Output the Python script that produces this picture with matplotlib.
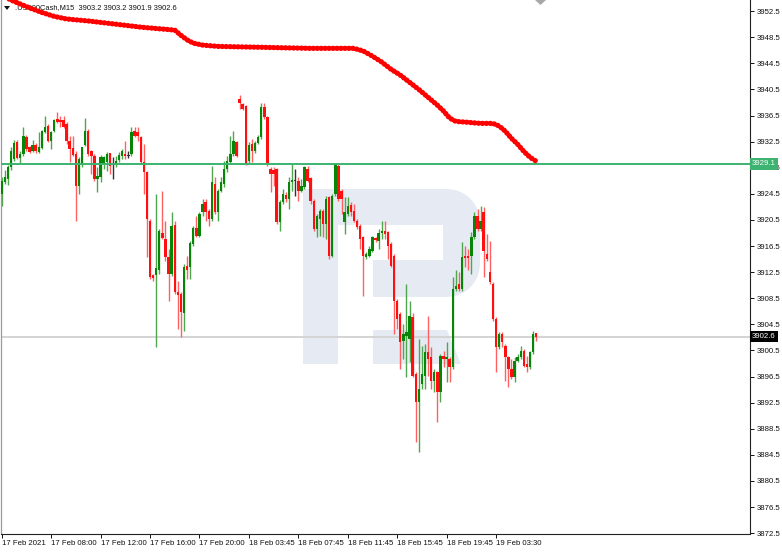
import matplotlib
matplotlib.use('Agg')
import matplotlib.pyplot as plt
import matplotlib.transforms as mtransforms
from matplotlib.patches import Polygon
import numpy as np

plt.rcParams['font.family'] = ['Liberation Sans', 'DejaVu Sans']

# ---------------- data (US500Cash M15) ----------------
opens = [
    3924.5, 3926.3, 3926.8, 3928.6, 3929.8, 3932.4, 3930.0, 3930.6, 3933.2, 3931.7,
    3931.0, 3932.0, 3930.9, 3931.5, 3934.0, 3934.9, 3932.6, 3934.1, 3935.9, 3935.8,
    3935.8, 3935.2, 3932.6, 3931.5, 3930.6, 3925.7, 3928.9, 3932.0, 3934.1, 3931.0,
    3930.3, 3926.8, 3927.1, 3929.1, 3929.4, 3930.7, 3928.9, 3928.9, 3929.7, 3930.3,
    3930.6, 3930.3, 3930.6, 3934.1, 3934.0, 3933.2, 3929.4, 3927.8, 3920.3, 3912.0,
    3912.0, 3912.9, 3918.5, 3917.6, 3914.8, 3912.2, 3919.7, 3909.4, 3909.1, 3906.2,
    3913.4, 3913.3, 3916.8, 3919.2, 3918.0, 3921.7, 3923.2, 3921.8, 3920.6, 3926.0,
    3921.7, 3924.9, 3926.0, 3928.3, 3929.4, 3930.6, 3932.4, 3939.0, 3938.2, 3937.9,
    3929.5, 3932.1, 3931.0, 3932.3, 3933.2, 3937.8, 3936.3, 3928.3, 3928.1, 3928.3,
    3920.2, 3923.2, 3924.3, 3923.7, 3926.3, 3926.5, 3926.5, 3924.9, 3925.5, 3928.3,
    3926.9, 3923.4, 3919.1, 3920.6, 3921.8, 3919.9, 3924.0, 3915.0, 3924.5, 3928.7,
    3924.9, 3920.2, 3921.4, 3922.8, 3921.8, 3920.3, 3919.5, 3917.9, 3914.8, 3915.0,
    3915.7, 3917.7, 3917.3, 3918.5, 3918.8, 3918.6, 3916.8, 3915.0, 3908.1, 3906.1,
    3901.9, 3902.7, 3902.2, 3905.6, 3896.9, 3892.6, 3895.3, 3896.6, 3900.2, 3899.5,
    3895.8, 3897.2, 3894.1, 3899.6, 3899.2, 3899.2, 3897.9, 3909.9, 3910.7, 3909.9,
    3915.0, 3915.0, 3915.0, 3917.9, 3921.1, 3919.1, 3921.7, 3915.3, 3912.6, 3910.7,
    3905.3, 3901.0, 3903.0, 3901.2, 3899.5, 3897.6, 3896.4, 3898.9, 3899.5, 3900.4,
    3898.4, 3897.9, 3900.2, 3903.2,
]
highs = [
    3927.1, 3928.1, 3928.9, 3931.7, 3932.7, 3932.7, 3931.0, 3934.7, 3933.5, 3931.8,
    3932.7, 3932.3, 3934.0, 3934.3, 3936.4, 3935.2, 3934.1, 3935.9, 3937.0, 3936.4,
    3936.4, 3935.5, 3933.3, 3933.3, 3931.0, 3930.1, 3931.7, 3936.2, 3934.4, 3931.2,
    3930.6, 3928.6, 3930.4, 3930.3, 3930.9, 3930.7, 3930.1, 3930.3, 3930.9, 3931.3,
    3932.6, 3931.0, 3934.7, 3934.7, 3934.7, 3933.4, 3932.1, 3928.0, 3920.6, 3912.2,
    3924.5, 3919.1, 3924.9, 3920.3, 3916.0, 3921.7, 3920.3, 3911.1, 3909.4, 3913.7,
    3915.0, 3917.3, 3919.5, 3921.1, 3921.7, 3923.7, 3923.7, 3922.2, 3928.7, 3927.1,
    3925.2, 3927.1, 3929.5, 3930.3, 3933.3, 3934.1, 3932.6, 3939.6, 3938.4, 3938.1,
    3932.4, 3932.9, 3932.6, 3933.5, 3938.4, 3938.4, 3936.4, 3928.6, 3928.6, 3928.4,
    3923.5, 3925.2, 3924.8, 3927.1, 3929.1, 3928.3, 3927.1, 3926.8, 3928.7, 3928.7,
    3927.1, 3923.7, 3921.4, 3922.2, 3922.2, 3924.2, 3924.2, 3924.5, 3929.2, 3929.1,
    3925.2, 3924.0, 3924.0, 3923.2, 3922.9, 3920.6, 3919.9, 3918.0, 3915.6, 3916.5,
    3918.0, 3917.9, 3919.1, 3920.3, 3920.3, 3918.8, 3917.1, 3915.3, 3908.4, 3906.4,
    3904.5, 3910.7, 3908.1, 3906.2, 3897.2, 3902.2, 3901.2, 3901.5, 3905.8, 3901.0,
    3897.6, 3897.3, 3899.9, 3900.4, 3901.8, 3899.5, 3911.7, 3912.9, 3912.6, 3917.1,
    3916.5, 3916.0, 3918.6, 3921.7, 3922.2, 3922.6, 3922.5, 3918.3, 3917.3, 3911.0,
    3905.6, 3903.3, 3903.3, 3901.5, 3899.6, 3899.2, 3899.5, 3899.9, 3901.2, 3900.7,
    3899.6, 3900.4, 3903.5, 3903.2,
]
lows = [
    3922.6, 3926.0, 3925.8, 3928.1, 3929.5, 3929.8, 3929.2, 3930.3, 3931.0, 3930.7,
    3930.9, 3930.7, 3930.7, 3931.4, 3933.8, 3932.4, 3931.4, 3934.0, 3935.3, 3934.7,
    3934.6, 3932.1, 3929.4, 3930.3, 3920.3, 3924.5, 3928.6, 3931.8, 3930.3, 3927.5,
    3926.5, 3924.8, 3926.3, 3928.3, 3928.0, 3927.5, 3926.8, 3928.6, 3929.4, 3929.8,
    3929.8, 3930.0, 3930.3, 3933.2, 3932.6, 3929.1, 3924.5, 3914.9, 3911.4, 3911.1,
    3901.0, 3912.2, 3917.6, 3914.2, 3908.1, 3911.9, 3909.1, 3903.8, 3902.5, 3903.5,
    3911.4, 3911.4, 3916.5, 3917.9, 3917.9, 3921.1, 3920.3, 3919.5, 3920.3, 3921.4,
    3920.3, 3924.8, 3925.5, 3927.8, 3929.1, 3930.3, 3930.1, 3937.5, 3937.3, 3928.9,
    3929.2, 3929.4, 3930.7, 3932.1, 3932.9, 3935.9, 3928.7, 3924.8, 3925.7, 3919.9,
    3918.8, 3922.9, 3923.2, 3922.2, 3924.9, 3924.1, 3923.4, 3924.8, 3925.2, 3926.3,
    3922.9, 3918.8, 3917.9, 3918.0, 3917.9, 3917.6, 3914.5, 3914.8, 3924.2, 3923.4,
    3921.4, 3918.3, 3921.1, 3921.1, 3920.2, 3919.1, 3916.0, 3908.8, 3914.5, 3914.8,
    3915.6, 3917.1, 3916.0, 3917.6, 3917.6, 3914.5, 3913.3, 3903.0, 3903.8, 3897.6,
    3899.2, 3896.4, 3898.7, 3896.4, 3886.4, 3884.9, 3894.6, 3894.6, 3896.6, 3894.6,
    3894.1, 3889.5, 3892.6, 3897.9, 3895.6, 3895.6, 3897.6, 3909.6, 3909.6, 3909.6,
    3913.3, 3912.9, 3912.2, 3917.6, 3918.8, 3918.8, 3911.7, 3914.2, 3910.7, 3905.0,
    3897.2, 3900.7, 3901.0, 3895.8, 3894.9, 3896.1, 3895.6, 3898.7, 3899.2, 3897.9,
    3897.2, 3897.6, 3899.9, 3901.9,
]
closes = [
    3926.5, 3927.1, 3928.6, 3931.0, 3932.3, 3930.0, 3930.6, 3933.3, 3931.3, 3930.9,
    3932.0, 3931.0, 3931.7, 3934.1, 3934.7, 3932.6, 3934.0, 3935.8, 3935.5, 3935.5,
    3934.7, 3932.6, 3931.4, 3930.4, 3925.7, 3929.8, 3931.7, 3934.1, 3930.6, 3930.3,
    3926.8, 3927.2, 3930.1, 3930.1, 3930.6, 3928.7, 3928.9, 3929.5, 3930.4, 3931.0,
    3930.3, 3930.3, 3934.0, 3933.4, 3933.4, 3929.4, 3927.8, 3920.6, 3911.7, 3911.6,
    3913.1, 3918.8, 3917.7, 3914.8, 3912.2, 3919.5, 3909.4, 3909.0, 3906.4, 3913.3,
    3912.9, 3916.9, 3919.2, 3918.0, 3921.4, 3922.9, 3921.7, 3920.6, 3926.3, 3921.7,
    3924.9, 3926.3, 3928.3, 3929.5, 3930.6, 3932.6, 3930.3, 3938.4, 3937.5, 3929.1,
    3932.0, 3931.0, 3932.3, 3933.2, 3937.8, 3936.3, 3929.1, 3927.5, 3927.5, 3920.2,
    3923.2, 3924.5, 3923.7, 3926.3, 3926.6, 3926.5, 3924.9, 3925.7, 3928.6, 3926.5,
    3923.4, 3919.1, 3921.1, 3921.8, 3919.9, 3923.7, 3915.0, 3924.2, 3929.1, 3923.7,
    3923.7, 3921.7, 3922.6, 3921.7, 3920.3, 3919.4, 3917.6, 3915.0, 3915.3, 3916.0,
    3917.9, 3917.4, 3918.5, 3918.8, 3918.3, 3916.5, 3913.4, 3908.1, 3905.3, 3901.8,
    3903.0, 3903.3, 3905.8, 3896.6, 3892.6, 3894.6, 3896.9, 3900.2, 3899.2, 3895.8,
    3897.2, 3894.1, 3899.6, 3899.2, 3899.5, 3897.9, 3909.9, 3910.4, 3909.9, 3914.8,
    3914.7, 3914.7, 3917.9, 3921.1, 3919.1, 3920.3, 3915.7, 3914.5, 3911.0, 3905.3,
    3901.0, 3903.0, 3901.8, 3899.5, 3897.6, 3896.4, 3898.9, 3899.5, 3900.4, 3898.1,
    3897.9, 3900.2, 3903.0, 3902.6,
]

# moving average read at selected bars
ma_idx = [0, 3, 6, 9, 13, 17, 21, 28, 37, 45, 51, 56, 58, 60, 62, 65, 70, 80, 100,
          114, 117, 120, 123, 126, 129, 132, 135, 138, 141, 143, 145, 147, 150, 155,
          159, 161, 163, 165, 167, 169, 171, 173]
ma_val = [3955.0, 3954.2, 3953.6, 3953.0, 3952.3, 3951.7, 3951.3, 3951.0, 3950.5,
          3950.05, 3949.8, 3949.6, 3948.8, 3948.1, 3947.6, 3947.3, 3947.1, 3947.0,
          3946.8, 3946.8, 3946.4, 3945.6, 3944.7, 3943.6, 3942.7, 3941.6, 3940.5,
          3939.3, 3938.1, 3937.2, 3936.1, 3935.6, 3935.5, 3935.3, 3935.3, 3934.9,
          3934.1, 3933.0, 3932.1, 3931.0, 3930.1, 3929.5]

level_line = 3929.1
bid_price = 3902.6

ytick_vals = [3872.5 + 4 * k for k in range(21)]
xtick_pos = [0, 16, 32, 48, 64, 80, 96, 112, 128, 144, 160]
xtick_labels = ["17 Feb 2021", "17 Feb 08:00", "17 Feb 12:00", "17 Feb 16:00",
                "17 Feb 20:00", "18 Feb 03:45", "18 Feb 07:45", "18 Feb 11:45",
                "18 Feb 15:45", "18 Feb 19:45", "19 Feb 03:30"]
title_text = ".US500Cash,M15  3903.2 3903.2 3901.9 3902.6"

# ---------------- figure ----------------
W, H = 782, 554
fig = plt.figure(figsize=(W / 100, H / 100), dpi=100)
fig.patch.set_facecolor('white')
ax_top, ax_bot = 0.0, 533.5
ax = fig.add_axes([1 / W, (H - ax_bot) / H, 749 / W, (ax_bot - ax_top) / H])
ax.set_facecolor('white')
ax.set_xlim(-0.23, 242.2)
ax.set_ylim(3872.45, 3954.21)

# pixel transform (x right, y down from top)
pxT = mtransforms.Affine2D().scale(1.0, -1.0).translate(0, H).scale(1 / W, 1 / H) + fig.transFigure

# watermark logo
logo_c = '#e6ebf3'
theta1 = np.linspace(np.pi / 2, 0, 12)
theta2 = np.linspace(0, -np.pi / 2, 12)
r = 33
bowl = [(303, 189), (480 - r, 189)]
bowl += [(480 - r + r * np.cos(t), 189 + r - r * np.sin(t)) for t in theta1]
bowl += [(480 - r + r * np.cos(t), 297 - r - r * np.sin(t)) for t in theta2]
bowl += [(303, 297)]
ax.add_patch(Polygon(bowl, closed=True, transform=pxT, fc=logo_c, ec='none', zorder=0.2))
ax.add_patch(Polygon([(303, 189), (338, 189), (338, 364), (303, 364)], closed=True,
                     transform=pxT, fc=logo_c, ec='none', zorder=0.2))
ax.add_patch(Polygon([(338, 225), (443, 225), (443, 260), (338, 260)], closed=True,
                     transform=pxT, fc='white', ec='none', zorder=0.3))
ax.add_patch(Polygon([(338, 260), (373, 260), (373, 300), (338, 300)], closed=True,
                     transform=pxT, fc='white', ec='none', zorder=0.3))
ax.add_patch(Polygon([(373, 330), (447, 330), (461, 364), (373, 364)], closed=True,
                     transform=pxT, fc=logo_c, ec='none', zorder=0.2))

# candles
o = np.array(opens); h = np.array(highs); l = np.array(lows); c = np.array(closes)
idx = np.arange(len(o))
up = c > o
down = c < o
wick_cols = np.where(up, '#4ea64e', np.where(down, '#ff6060', '#333333'))
ax.vlines(idx, l, h, colors=wick_cols, lw=1.0, zorder=2.5)
body_bot = np.minimum(o, c)
body_h = np.maximum(np.abs(c - o), 0.18)
body_cols = np.where(up, '#078507', np.where(down, '#ff0f0f', '#333333'))
ax.bar(idx, body_h, bottom=body_bot, width=0.78, color=body_cols, lw=0, zorder=3)

# bid line and level line
ax.axhline(bid_price, color='#d4d4d4', lw=1.4, zorder=1.5)
ax.axhline(level_line, color='#3cb371', lw=1.4, zorder=3.6)

# moving average
ax.plot(ma_idx, ma_val, color='#ff0000', lw=3.8, linestyle=(0, (0.05, 0.7)),
        dash_capstyle='round', solid_capstyle='round', zorder=4)

# axes styling
ax.spines['top'].set_visible(False)
ax.spines['left'].set_color('#9a9a9a')
ax.spines['left'].set_linewidth(0.9)
ax.spines['bottom'].set_color('#222222')
ax.spines['bottom'].set_linewidth(0.8)
ax.spines['right'].set_color('#222222')
ax.spines['right'].set_linewidth(0.8)

ax.yaxis.tick_right()
ax.set_yticks(ytick_vals)
ax.set_yticklabels([f"{v:.1f}" for v in ytick_vals])
ax.tick_params(axis='y', length=3, width=0.7, pad=2, labelsize=5.6, colors='#111111')
ax.set_xticks(xtick_pos)
ax.set_xticklabels(xtick_labels)
ax.tick_params(axis='x', length=3, width=0.7, pad=2, labelsize=5.6, colors='#111111')
for lbl in ax.get_xticklabels():
    lbl.set_horizontalalignment('left')

# right-side price labels
yT = ax.get_yaxis_transform()
ax.text(1.0025, level_line, f"{level_line:.1f}", transform=yT, color='white', fontsize=5.6,
        ha='left', va='center', zorder=6, clip_on=False,
        bbox=dict(boxstyle='square,pad=0.28', fc='#3cb371', ec='none'))
ax.text(1.0025, bid_price, f"{bid_price:.1f}", transform=yT, color='white', fontsize=5.6,
        ha='left', va='center', zorder=6, clip_on=False,
        bbox=dict(boxstyle='square,pad=0.28', fc='#000000', ec='none'))

# title
ax.add_patch(Polygon([(4, 6), (10, 6), (7, 10)], closed=True, transform=pxT,
                     fc='#111111', ec='none', zorder=1, clip_on=False))
ax.text(15, 8, title_text, transform=pxT, fontsize=5.4, color='#111111',
        ha='left', va='center', zorder=1, clip_on=False)

# chart shift marker
ax.add_patch(Polygon([(535, 0), (546, 0), (540.5, 5)], closed=True, transform=pxT,
                     fc='#a8a8a8', ec='none', zorder=1, clip_on=False))

fig.savefig('out.png', dpi=100, facecolor='white')
